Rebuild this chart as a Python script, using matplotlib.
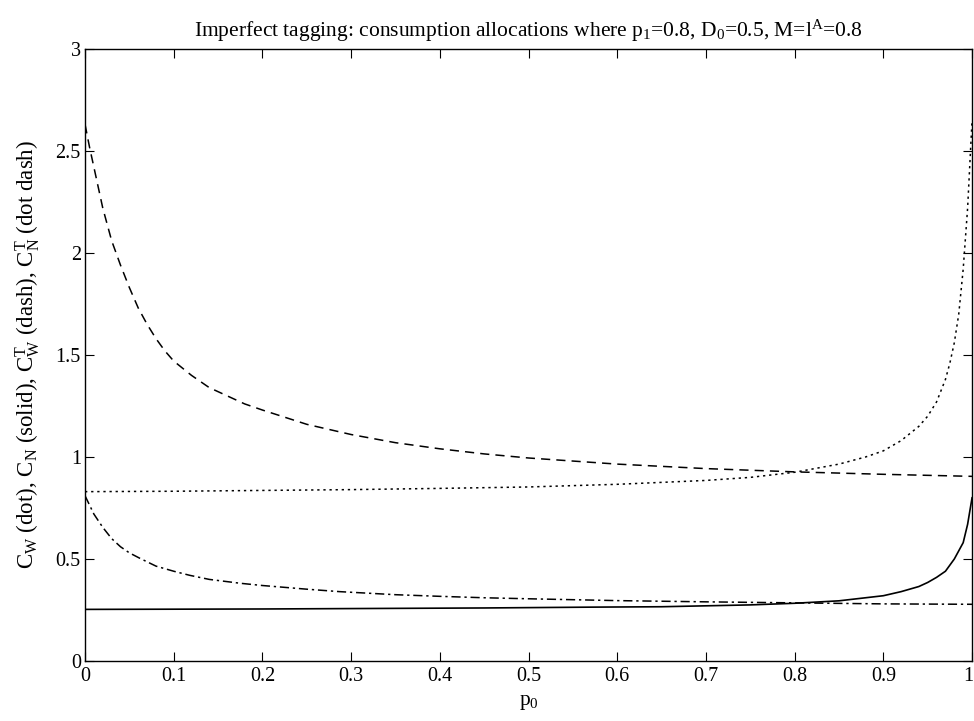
import numpy as np
import matplotlib
matplotlib.use("Agg")
import matplotlib.pyplot as plt
from matplotlib.transforms import ScaledTranslation

plt.rcParams['font.family'] = ['Liberation Serif', 'DejaVu Serif']
plt.rcParams['mathtext.fontset'] = 'custom'
plt.rcParams['mathtext.rm'] = 'Liberation Serif'
plt.rcParams['mathtext.it'] = 'Liberation Serif'

# C_W (dotted)
p_dot = [0.0, 0.1, 0.2, 0.3, 0.4, 0.5, 0.6, 0.7, 0.75, 0.8, 0.85, 0.88,
         0.9, 0.92, 0.94, 0.95, 0.96, 0.97, 0.975, 0.98, 0.985, 0.99,
         0.995, 1.0]
cw = [0.83, 0.832, 0.836, 0.84, 0.846, 0.853, 0.866, 0.885, 0.90, 0.925,
      0.965, 1.0, 1.03, 1.08, 1.15, 1.2, 1.27, 1.38, 1.46, 1.56, 1.7,
      1.92, 2.22, 2.65]

# C_N (solid)
p_sol = [0.0, 0.2, 0.45, 0.57, 0.65, 0.75, 0.8, 0.85, 0.88, 0.9, 0.92,
         0.94, 0.95, 0.96, 0.97, 0.98, 0.985, 0.99, 0.995, 1.0]
cn = [0.253, 0.255, 0.26, 0.264, 0.266, 0.275, 0.283, 0.295, 0.31, 0.32,
      0.34, 0.365, 0.385, 0.41, 0.44, 0.50, 0.54, 0.58, 0.67, 0.80]

# C_W^T (dashed)
p_das = [0.0, 0.005, 0.01, 0.02, 0.03, 0.04, 0.05, 0.06, 0.07, 0.08, 0.09,
         0.1, 0.12, 0.14, 0.16, 0.18, 0.2, 0.25, 0.3, 0.35, 0.4, 0.45, 0.5,
         0.6, 0.7, 0.8, 0.9, 1.0]
cwt = [2.63, 2.52, 2.42, 2.22, 2.06, 1.94, 1.83, 1.73, 1.65, 1.58, 1.52,
       1.47, 1.40, 1.34, 1.30, 1.26, 1.23, 1.16, 1.11, 1.07, 1.04, 1.015,
       0.995, 0.965, 0.943, 0.927, 0.915, 0.905]

# C_N^T (dot dash)
p_dd = [0.0, 0.01, 0.02, 0.03, 0.04, 0.05, 0.062, 0.08, 0.1, 0.118, 0.14,
        0.175, 0.2, 0.25, 0.287, 0.35, 0.4, 0.45, 0.5, 0.6, 0.7, 0.8, 0.9,
        1.0]
cnt = [0.81, 0.72, 0.655, 0.60, 0.56, 0.53, 0.503, 0.465, 0.44, 0.42, 0.40,
       0.381, 0.37, 0.352, 0.34, 0.325, 0.317, 0.31, 0.305, 0.296, 0.29,
       0.285, 0.28, 0.278]

xticks = [0, 0.1, 0.2, 0.3, 0.4, 0.5, 0.6, 0.7, 0.8, 0.9, 1]
xlabels = ['0', '0.1', '0.2', '0.3', '0.4', '0.5', '0.6', '0.7', '0.8', '0.9', '1']
yticks = [0, 0.5, 1, 1.5, 2, 2.5, 3]
ylabels = ['0', '0.5', '1', '1.5', '2', '2.5', '3']

fig = plt.figure(figsize=(9.74, 7.21), dpi=100)
ax = fig.add_axes([0.0873, 0.0832, 0.9107, 0.849])

ax.plot(p_dot, cw, color='k', lw=1.1, dashes=(1.5, 2.5))
ax.plot(p_sol, cn, color='k', lw=1.2)
ax.plot(p_das, cwt, color='k', lw=1.1, dashes=(6, 4))
ax.plot(p_dd, cnt, color='k', lw=1.1, dashes=(6, 2.5, 1.5, 2.5))

ax.set_xlim(0, 1)
ax.set_ylim(0, 3)
ax.set_xticks(xticks)
ax.set_xticklabels(xlabels)
ax.set_yticks(yticks)
ax.set_yticklabels(ylabels)
ax.tick_params(direction='in', length=6.5, width=0.8, top=True, right=True,
               labelsize=14.5)
ax.tick_params(axis='x', pad=4)
ax.tick_params(axis='y', pad=3)
for s in ax.spines.values():
    s.set_linewidth(1.0)

# keep the last x label inside the figure like the original
last = ax.get_xticklabels()[-1]
last.set_transform(last.get_transform() + ScaledTranslation(-4 / 100, 0, fig.dpi_scale_trans))

ax.set_title(r'Imperfect tagging: consumption allocations where p$_1$=0.8, D$_0$=0.5, M=l$^A$=0.8',
             fontsize=15.5, pad=9)
ax.set_xlabel(r'p$_0$', fontsize=15.5, labelpad=5)
ax.set_ylabel(r'C$_W$ (dot), C$_N$ (solid), C$_W^T$ (dash), C$_N^T$ (dot dash)',
              fontsize=16.5, labelpad=10)

fig.savefig('out.png', dpi=100)
